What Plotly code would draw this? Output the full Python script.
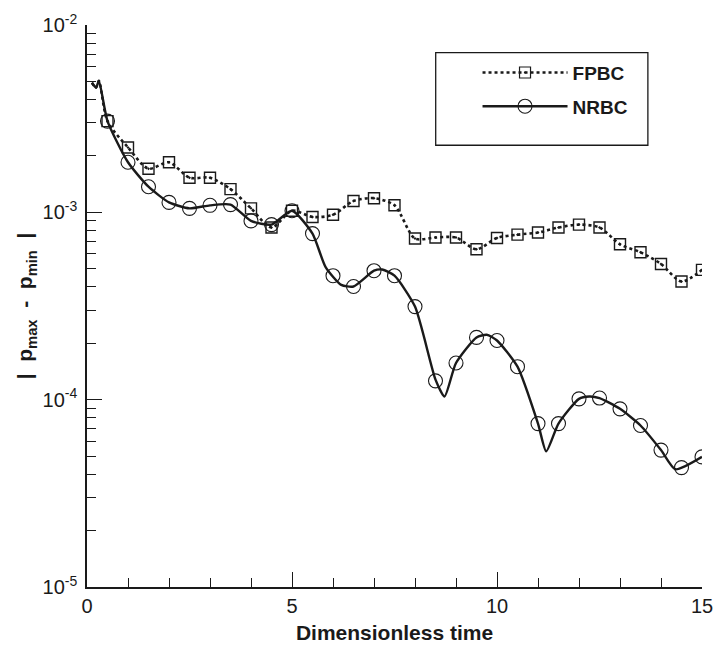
import plotly.graph_objects as go

# ---- data ----
t_marks = [0.5, 1.0, 1.5, 2.0, 2.5, 3.0, 3.5, 4.0, 4.5, 5.0, 5.5, 6.0, 6.5, 7.0, 7.5,
           8.0, 8.5, 9.0, 9.5, 10.0, 10.5, 11.0, 11.5, 12.0, 12.5, 13.0, 13.5, 14.0, 14.5, 15.0]

fpbc_marks = [3.07e-3, 2.22e-3, 1.71e-3, 1.85e-3, 1.53e-3, 1.53e-3, 1.33e-3, 1.05e-3, 8.3e-4, 1.02e-3,
              9.45e-4, 9.7e-4, 1.15e-3, 1.19e-3, 1.09e-3, 7.25e-4, 7.34e-4, 7.34e-4, 6.35e-4, 7.3e-4,
              7.6e-4, 7.8e-4, 8.3e-4, 8.6e-4, 8.3e-4, 6.75e-4, 6.12e-4, 5.3e-4, 4.27e-4, 4.93e-4]

nrbc_marks = [3.07e-3, 1.85e-3, 1.37e-3, 1.13e-3, 1.05e-3, 1.09e-3, 1.10e-3, 9.0e-4, 8.6e-4, 1.02e-3,
              7.7e-4, 4.59e-4, 4.02e-4, 4.88e-4, 4.59e-4, 3.14e-4, 1.26e-4, 1.57e-4, 2.15e-4, 2.07e-4,
              1.50e-4, 7.45e-5, 7.45e-5, 1.01e-4, 1.02e-4, 8.93e-5, 7.28e-5, 5.38e-5, 4.34e-5, 4.95e-5]

# continuous curves (start transient + extra read points)
t_start = [0.12, 0.22, 0.29]
p_start = [4.92e-3, 4.63e-3, 5.03e-3]

fpbc_t = t_start + t_marks
fpbc_p = p_start + fpbc_marks

nrbc_t = t_start + [0.5, 1.0, 1.5, 2.0, 2.5, 3.0, 3.5, 4.0, 4.5, 5.0, 5.5, 5.82, 6.2, 6.5, 7.0, 7.2,
                    7.5, 8.0, 8.5, 8.72, 9.0, 9.5, 9.75, 10.0, 10.5, 11.0, 11.2, 11.5, 12.0,
                    12.25, 12.5, 13.0, 13.5, 14.0, 14.35, 15.0]
nrbc_p = p_start + [3.07e-3, 1.85e-3, 1.37e-3, 1.13e-3, 1.05e-3, 1.09e-3, 1.10e-3, 9.0e-4, 8.6e-4,
                    1.02e-3, 7.7e-4, 5.1e-4, 4.1e-4, 4.02e-4, 4.88e-4, 4.95e-4,
                    4.59e-4, 3.14e-4, 1.28e-4, 1.04e-4, 1.57e-4, 2.15e-4, 2.22e-4, 2.07e-4, 1.50e-4,
                    7.45e-5, 5.3e-5, 7.45e-5, 1.01e-4, 1.04e-4, 1.02e-4, 8.93e-5, 7.28e-5, 5.38e-5,
                    4.25e-5, 4.95e-5]

series_names = ["FPBC", "NRBC"]
x_tickvals = [0, 5, 10, 15]
x_minor = list(range(1, 15))
y_tickvals = [1e-5, 1e-4, 1e-3, 1e-2]
y_ticktext = ["10<sup>-5</sup>", "10<sup>-4</sup>", "10<sup>-3</sup>", "10<sup>-2</sup>"]
y_minor = [m * 10.0 ** e for e in (-5, -4, -3) for m in range(2, 10)]

INK = "#1a1a1a"
FONT = "Liberation Sans, Arial, sans-serif"
NB = "\u00a0"

fig = go.Figure()

# FPBC
fig.add_trace(go.Scatter(x=fpbc_t, y=fpbc_p, mode="lines", showlegend=False,
                         line=dict(color=INK, width=2.6, dash="dot", shape="spline", smoothing=0.8)))
fig.add_trace(go.Scatter(x=t_marks, y=fpbc_marks, mode="markers", showlegend=False,
                         marker=dict(symbol="square-open-dot", size=11, color=INK,
                                     line=dict(color=INK, width=1.4))))
# NRBC
fig.add_trace(go.Scatter(x=nrbc_t, y=nrbc_p, mode="lines", showlegend=False,
                         line=dict(color=INK, width=2.4, shape="spline", smoothing=0.6)))
fig.add_trace(go.Scatter(x=t_marks, y=nrbc_marks, mode="markers", showlegend=False,
                         marker=dict(symbol="circle-open", size=14, color=INK,
                                     line=dict(color=INK, width=1.1))))

# legend entries
fig.add_trace(go.Scatter(x=[None], y=[None], mode="lines+markers", name=series_names[0],
                         legendgroup="a",
                         line=dict(color=INK, width=2.4, dash="dot"),
                         marker=dict(symbol="square-open-dot", size=11, color=INK,
                                     line=dict(color=INK, width=1.2))))
fig.add_trace(go.Scatter(x=[None], y=[None], mode="lines+markers", name=series_names[1],
                         legendgroup="b",
                         line=dict(color=INK, width=2.4),
                         marker=dict(symbol="circle-open", size=14, color=INK,
                                     line=dict(color=INK, width=1.1))))

fig.update_layout(
    width=724, height=652,
    margin=dict(l=87, r=11, t=15, b=63),
    paper_bgcolor="white", plot_bgcolor="white",
    font=dict(family=FONT, color=INK, size=18),
    legend=dict(x=0.635, y=0.949, xanchor="left", yanchor="top",
                borderwidth=0, bgcolor="rgba(0,0,0,0)",
                font=dict(family=FONT, size=19, color=INK, weight="bold"),
                itemwidth=85, tracegroupgap=6),
    shapes=[dict(type="rect", xref="paper", yref="paper", x0=0.567, x1=0.912,
                 y0=0.786, y1=0.951, line=dict(color=INK, width=1.3), fillcolor="rgba(0,0,0,0)",
                 layer="above")],
    xaxis=dict(range=[0, 15], tickvals=x_tickvals, ticks="inside", ticklen=15,
               tickwidth=1.3, tickcolor=INK, showline=True, linecolor=INK, linewidth=1.5,
               showgrid=False, zeroline=False, mirror=False, ticklabeloverflow="allow",
               minor=dict(tickvals=x_minor, ticks="inside", ticklen=9,
                          tickwidth=1.3, tickcolor=INK, showgrid=False),
               tickfont=dict(size=20),
               title=dict(text="<b>Dimensionless time</b>", font=dict(size=21), standoff=10)),
    yaxis=dict(type="log", range=[-5, -2], tickvals=y_tickvals, ticktext=y_ticktext,
               ticks="inside", ticklen=15, tickwidth=1.3, tickcolor=INK,
               showline=True, linecolor=INK, linewidth=1.5, showgrid=False, zeroline=False,
               ticklabeloverflow="allow",
               minor=dict(tickvals=y_minor, ticks="inside", ticklen=9, tickwidth=1.3,
                          tickcolor=INK, showgrid=False),
               tickfont=dict(size=20), ticklabelstandoff=4,
               title=dict(text="<b>|" + NB * 2 + "p<sub>max</sub>" + NB * 2 + "-" + NB * 2
                               + "p<sub>min</sub>" + NB * 2 + "|</b>",
                          font=dict(size=21), standoff=4)),
)

fig.write_html("out.html")
